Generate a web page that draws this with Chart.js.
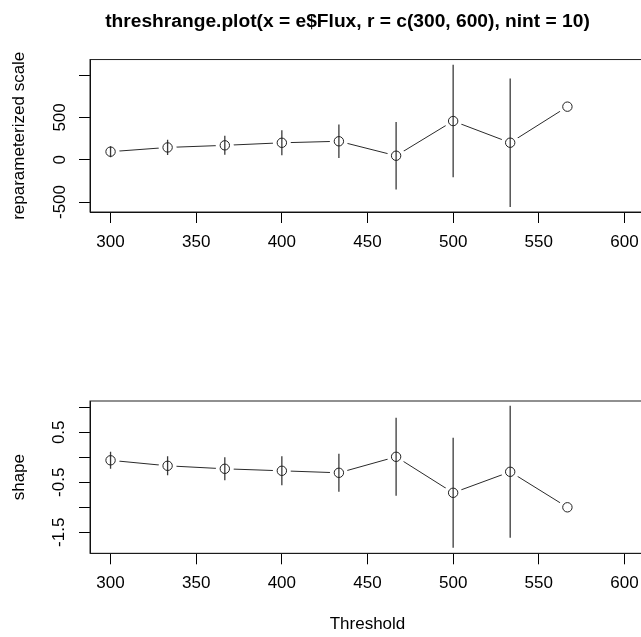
<!DOCTYPE html>
<html>
<head>
<meta charset="utf-8">
<script src="https://cdn.jsdelivr.net/npm/chart.js@4/dist/chart.umd.min.js"></script>
<style>
    html, body { margin: 0; padding: 0; background: #fff; overflow: hidden; width: 641px; height: 637px; }
    .panel { position: absolute; left: 0; }
    #top { top: 0; }
    #bottom { top: 320px; }
</style>
</head>
<body>
<div class="panel" id="top"><canvas id="scaleChart" width="695" height="320"></canvas></div>
<div class="panel" id="bottom"><canvas id="shapeChart" width="695" height="317"></canvas></div>
<script>
// Data
const thresholds = [300, 333.3, 366.7, 400, 433.3, 466.7, 500, 533.3, 566.7];
const scaleEst = [95, 145, 170, 200, 218, 47, 457, 201, 627];
const scaleHalf = [65, 90, 112, 148, 197, 398, 665, 760, null]; // half width of CI
const shapeEst = [-0.06, -0.17, -0.23, -0.27, -0.31, 0.01, -0.71, -0.29, -1.0];
const shapeHalf = [0.17, 0.19, 0.23, 0.29, 0.38, 0.78, 1.1, 1.32, null];

const xTicks = [300, 350, 400, 450, 500, 550, 600];
const scaleTicks = [-500, 0, 500, 1000];
const scaleTickLabels = ['-500', '0', '500', ''];
const shapeTicks = [-1.5, -1.0, -0.5, 0, 0.5, 1.0];
const shapeTickLabels = ['-1.5', '', '-0.5', '', '0.5', ''];

Chart.defaults.font.family = "'Liberation Sans', Arial, sans-serif";
Chart.defaults.color = '#000';

// box around the plot region, like R's box()
const framePlugin = {
    id: 'frame',
    afterDatasetsDraw(chart) {
        const { ctx, chartArea: a } = chart;
        ctx.save();
        ctx.strokeStyle = '#222';
        ctx.lineWidth = 1;
        ctx.strokeRect(a.left, a.top, a.right - a.left, a.bottom - a.top);
        ctx.restore();
    }
};

function buildDatasets(est, half) {
    const pts = thresholds.map((x, i) => ({ x, y: est[i] }));
    const sets = [
        // connecting line
        { type: 'line', data: pts, borderColor: '#2a2a2a', borderWidth: 1, pointRadius: 0, order: 4 },
        // white halo so the line stops short of the points (type = "b")
        { type: 'scatter', data: pts, pointRadius: 9, pointBackgroundColor: '#fff', pointBorderColor: 'rgba(0,0,0,0)', pointBorderWidth: 0, order: 3 }
    ];
    thresholds.forEach((x, i) => {
        if (half[i] == null) return;
        sets.push({
            type: 'line',
            data: [{ x, y: est[i] - half[i] }, { x, y: est[i] + half[i] }],
            borderColor: '#3a3a3a', borderWidth: 1.3, pointRadius: 0, order: 2
        });
    });
    sets.push({ type: 'scatter', data: pts, pointRadius: 4.7, pointBackgroundColor: 'rgba(0,0,0,0)', pointBorderColor: '#222', pointBorderWidth: 1, order: 1 });
    return sets;
}

function xAxis(height, title) {
    return {
        type: 'linear',
        min: 288,
        max: 612,
        afterBuildTicks: s => { s.ticks = xTicks.map(v => ({ value: v })); },
        afterFit: s => { s.height = height; },
        grid: { drawOnChartArea: false, drawTicks: true, tickLength: 11, color: '#000' },
        border: { display: true, color: '#000' },
        ticks: { font: { size: 17 }, padding: 9, maxRotation: 0, autoSkip: false, callback: v => String(v) },
        title: title ? { display: true, text: title, font: { size: 17 }, padding: { top: 0, bottom: 2 } } : { display: false }
    };
}

function yAxis(min, max, ticks, labels, title, pad) {
    return {
        type: 'linear',
        min: min,
        max: max,
        afterBuildTicks: s => { s.ticks = ticks.map(v => ({ value: v })); },
        afterFit: s => { s.width = 90; },
        grid: { drawOnChartArea: false, drawTicks: true, tickLength: 11, color: '#000' },
        border: { display: true, color: '#000' },
        ticks: {
            font: { size: 17 }, padding: pad, minRotation: 90, maxRotation: 90,
            crossAlign: 'center', autoSkip: false,
            callback: (v, i) => labels[i]
        },
        title: { display: true, text: title, font: { size: 17 }, padding: { top: 9, bottom: 0 } }
    };
}

// empty right margin (off screen): keeps the plot region at 90..645
// while the main title centres on the wider figure
const rightMargin = {
    position: 'right',
    afterFit: s => { s.width = 50; },
    grid: { display: false },
    border: { display: false },
    ticks: { display: false }
};

const scaleChart = new Chart(document.getElementById('scaleChart').getContext('2d'), {
    type: 'line',
    data: { datasets: buildDatasets(scaleEst, scaleHalf) },
    options: {
        responsive: false,
        animation: false,
        events: [],
        plugins: {
            legend: { display: false },
            tooltip: { enabled: false },
            title: {
                display: true,
                text: 'threshrange.plot(x = e$Flux, r = c(300, 600), nint = 10)',
                font: { size: 19.2, weight: 'bold' },
                padding: { top: 10, bottom: 26.5 }
            }
        },
        scales: {
            x: xAxis(108, null),
            y: yAxis(-618, 1184, scaleTicks, scaleTickLabels, 'reparameterized scale', 2),
            yRight: rightMargin
        }
    },
    plugins: [framePlugin]
});

const shapeChart = new Chart(document.getElementById('shapeChart').getContext('2d'), {
    type: 'line',
    data: { datasets: buildDatasets(shapeEst, shapeHalf) },
    options: {
        responsive: false,
        animation: false,
        events: [],
        layout: { padding: { top: 81 } },
        plugins: {
            legend: { display: false },
            tooltip: { enabled: false }
        },
        scales: {
            x: xAxis(83.7, 'Threshold'),
            y: yAxis(-1.92, 1.126, shapeTicks, shapeTickLabels, 'shape', 5),
            yRight: rightMargin
        }
    },
    plugins: [framePlugin]
});
</script>
</body>
</html>
